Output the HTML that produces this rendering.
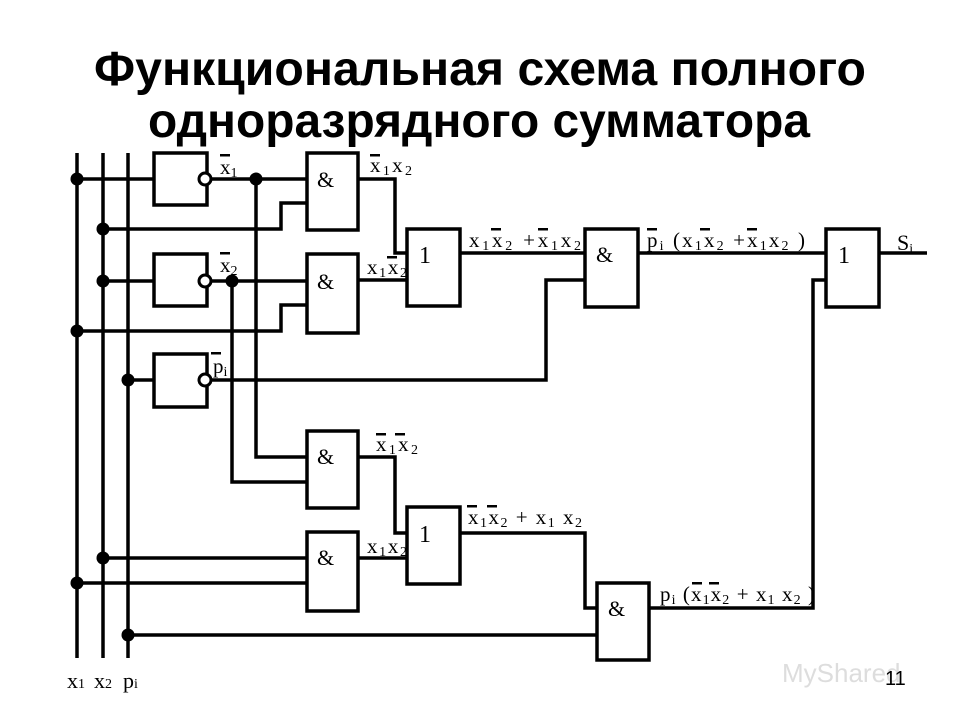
<!DOCTYPE html>
<html><head><meta charset="utf-8"><style>
html,body{margin:0;padding:0;background:#fff;width:960px;height:720px;overflow:hidden}
svg{display:block}
.t{font-family:"Liberation Serif",serif;font-size:21px;fill:#000}
.s{font-size:14px}
</style></head><body>
<svg width="960" height="720" viewBox="0 0 960 720" xmlns="http://www.w3.org/2000/svg">
<text x="782" y="682" font-family="Liberation Sans, sans-serif" font-size="26" fill="#ddd">MyShared</text>
<text x="480" y="85" text-anchor="middle" font-family="Liberation Sans, sans-serif" font-weight="bold" font-size="48" textLength="772" lengthAdjust="spacingAndGlyphs">Функциональная схема полного</text>
<text x="479" y="137" text-anchor="middle" font-family="Liberation Sans, sans-serif" font-weight="bold" font-size="48" textLength="662" lengthAdjust="spacingAndGlyphs">одноразрядного сумматора</text>

<g fill="none" stroke="#000" stroke-width="3.5">
<line x1="77" y1="153" x2="77" y2="658"/>
<line x1="103" y1="153" x2="103" y2="658"/>
<line x1="128" y1="153" x2="128" y2="658"/>
<rect x="154" y="153" width="53" height="52"/>
<rect x="154" y="254" width="53" height="52"/>
<rect x="154" y="354" width="53" height="53"/>
<rect x="307" y="153" width="51" height="77"/>
<rect x="307" y="254" width="51" height="79"/>
<rect x="407" y="229" width="53" height="77"/>
<rect x="585" y="229" width="53" height="78"/>
<rect x="826" y="229" width="53" height="78"/>
<rect x="307" y="431" width="51" height="77"/>
<rect x="407" y="507" width="53" height="77"/>
<rect x="307" y="532" width="51" height="79"/>
<rect x="597" y="583" width="52" height="77"/>
<line x1="77" y1="179" x2="154" y2="179"/>
<line x1="211" y1="179" x2="307" y2="179"/>
<polyline points="103,229 281,229 281,203 307,203"/>
<line x1="103" y1="281" x2="154" y2="281"/>
<line x1="211" y1="281" x2="307" y2="281"/>
<polyline points="77,331 281,331 281,305 307,305"/>
<line x1="128" y1="380" x2="154" y2="380"/>
<polyline points="211,380 546,380 546,280 585,280"/>
<polyline points="256,179 256,457 307,457"/>
<polyline points="232,281 232,482 307,482"/>
<polyline points="358,179 395,179 395,253 407,253"/>
<line x1="358" y1="280" x2="407" y2="280"/>
<line x1="460" y1="253" x2="585" y2="253"/>
<line x1="638" y1="253" x2="826" y2="253"/>
<line x1="879" y1="253" x2="927" y2="253"/>
<polyline points="358,457 395,457 395,533 407,533"/>
<line x1="103" y1="558" x2="307" y2="558"/>
<line x1="77" y1="583" x2="307" y2="583"/>
<line x1="358" y1="558" x2="407" y2="558"/>
<polyline points="460,533 585,533 585,608 597,608"/>
<line x1="128" y1="635" x2="597" y2="635"/>
<polyline points="649,608 813,608 813,280 826,280"/>
</g>
<g fill="#fff" stroke="#000" stroke-width="3">
<circle cx="205" cy="179" r="6"/><circle cx="205" cy="281" r="6"/><circle cx="205" cy="380" r="6"/>
</g>
<g fill="#000">
<circle cx="77" cy="179" r="6.5"/><circle cx="77" cy="331" r="6.5"/><circle cx="77" cy="583" r="6.5"/>
<circle cx="103" cy="229" r="6.5"/><circle cx="103" cy="281" r="6.5"/><circle cx="103" cy="558" r="6.5"/>
<circle cx="128" cy="380" r="6.5"/><circle cx="128" cy="635" r="6.5"/>
<circle cx="256" cy="179" r="6.5"/><circle cx="232" cy="281" r="6.5"/>
</g>
<g class="t">
<text x="317" y="187" font-size="22">&amp;</text><text x="317" y="289" font-size="22">&amp;</text>
<text x="317" y="464" font-size="22">&amp;</text><text x="317" y="565" font-size="22">&amp;</text>
<text x="596" y="262" font-size="22">&amp;</text><text x="608" y="616" font-size="22">&amp;</text>
<text x="419" y="263" font-size="24">1</text><text x="419" y="542" font-size="24">1</text><text x="838" y="263" font-size="24">1</text>
<text x="220" y="174">x<tspan class="s" dy="3">1</tspan></text>
<text x="220" y="272">x<tspan class="s" dy="3">2</tspan></text>
<text x="213" y="373">p<tspan class="s" dy="3">i</tspan></text>
<text x="370" y="172" textLength="42">x<tspan class="s" dy="3">1</tspan><tspan dy="-3">x</tspan><tspan class="s" dy="3">2</tspan></text>
<text x="367" y="274" textLength="40">x<tspan class="s" dy="3">1</tspan><tspan dy="-3">x</tspan><tspan class="s" dy="3">2</tspan></text>
<text x="469" y="247" textLength="112">x<tspan class="s" dy="3">1</tspan><tspan dy="-3">x</tspan><tspan class="s" dy="3">2</tspan><tspan dy="-3"> +x</tspan><tspan class="s" dy="3">1</tspan><tspan dy="-3">x</tspan><tspan class="s" dy="3">2</tspan></text>
<text x="647" y="247" textLength="158">p<tspan class="s" dy="3">i</tspan><tspan dy="-3"> (x</tspan><tspan class="s" dy="3">1</tspan><tspan dy="-3">x</tspan><tspan class="s" dy="3">2</tspan><tspan dy="-3">  +x</tspan><tspan class="s" dy="3">1</tspan><tspan dy="-3">x</tspan><tspan class="s" dy="3">2</tspan><tspan dy="-3"> )</tspan></text>
<text x="897" y="250" font-size="22">S<tspan class="s" dy="3">i</tspan></text>
<text x="376" y="451" textLength="42">x<tspan class="s" dy="3">1</tspan><tspan dy="-3">x</tspan><tspan class="s" dy="3">2</tspan></text>
<text x="367" y="553" textLength="40">x<tspan class="s" dy="3">1</tspan><tspan dy="-3">x</tspan><tspan class="s" dy="3">2</tspan></text>
<text x="468" y="524" textLength="114">x<tspan class="s" dy="3">1</tspan><tspan dy="-3">x</tspan><tspan class="s" dy="3">2</tspan><tspan dy="-3">  + x</tspan><tspan class="s" dy="3">1</tspan><tspan dy="-3"> x</tspan><tspan class="s" dy="3">2</tspan></text>
<text x="660" y="601" textLength="155">p<tspan class="s" dy="3">i</tspan><tspan dy="-3"> (x</tspan><tspan class="s" dy="3">1</tspan><tspan dy="-3">x</tspan><tspan class="s" dy="3">2</tspan><tspan dy="-3">  + x</tspan><tspan class="s" dy="3">1</tspan><tspan dy="-3"> x</tspan><tspan class="s" dy="3">2</tspan><tspan dy="-3"> )</tspan></text>
<text x="67" y="688" font-size="22">x<tspan class="s">1</tspan></text>
<text x="94" y="688" font-size="22">x<tspan class="s">2</tspan></text>
<text x="123" y="688" font-size="22">p<tspan class="s">i</tspan></text>
</g>
<g fill="#000">
<rect x="220" y="154" width="10" height="2.5"/>
<rect x="220" y="252" width="10" height="2.5"/>
<rect x="211" y="352" width="10" height="2.5"/>
<rect x="370" y="154" width="10" height="2.5"/>
<rect x="387" y="256" width="10" height="2.5"/>
<rect x="491" y="228" width="10" height="2.5"/>
<rect x="538" y="228" width="10" height="2.5"/>
<rect x="647" y="228" width="10" height="2.5"/>
<rect x="700" y="228" width="10" height="2.5"/>
<rect x="747" y="228" width="10" height="2.5"/>
<rect x="376" y="433" width="10" height="2.5"/>
<rect x="395" y="433" width="10" height="2.5"/>
<rect x="467" y="505" width="10" height="2.5"/>
<rect x="487" y="505" width="10" height="2.5"/>
<rect x="692" y="582" width="10" height="2.5"/>
<rect x="709" y="582" width="10" height="2.5"/>
</g>
<text x="885" y="685" font-family="Liberation Sans, sans-serif" font-size="20" fill="#000">11</text>
</svg>
</body></html>
